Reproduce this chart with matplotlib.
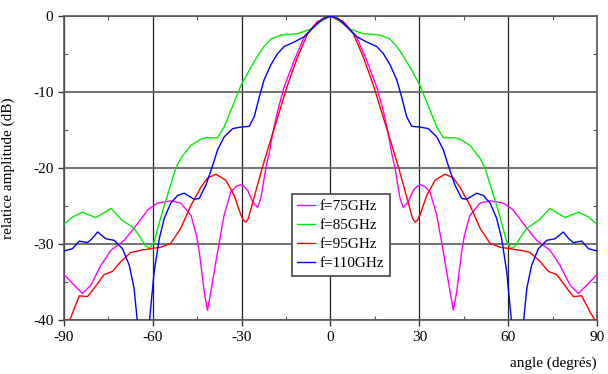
import matplotlib
matplotlib.use("Agg")
import matplotlib.pyplot as plt
from matplotlib.ticker import MultipleLocator

plt.rcParams.update({'font.size': 11, 'font.family': 'Liberation Serif',
                     'axes.unicode_minus': False})

# angle (deg) / relative amplitude (dB)
ang_75 = [-90, -86.5, -83.7, -80.9, -77.5, -74.1, -69.6, -65.1, -61.7, -58.4, -53.9, -50.5, -47.1,
          -45.2, -44.3, -42.6, -41.5, -40.4, -38.1, -35.9, -33.6, -31.8, -30.4, -29.2, -28.0, -26.3,
          -24.6, -23.5, -22.4, -21.8, -20.7, -19.5, -17.8, -15.6, -12.2, -8.8, -4.3, 0,
          4.3, 8.8, 12.2, 15.6, 17.8, 19.5, 20.7, 21.8, 22.4, 23.5, 24.6, 26.3, 28.0, 29.2, 30.4,
          31.8, 33.6, 35.9, 38.1, 40.4, 41.5, 42.6, 44.3, 45.2, 47.1, 50.5, 53.9, 58.4, 61.7, 65.1,
          69.6, 74.1, 77.5, 80.9, 83.7, 86.5, 90]
db_75 = [-34.0, -35.4, -36.5, -35.4, -32.8, -30.8, -29.5, -27.3, -25.5, -24.6, -24.3, -24.6, -26.2,
         -28.9, -31.0, -36.3, -38.7, -36.3, -31.0, -26.2, -23.1, -22.4, -22.2, -22.4, -22.9, -24.4,
         -25.2, -24.0, -21.4, -20.0, -18.1, -15.4, -12.4, -9.3, -5.8, -2.7, -0.7, 0,
         -0.7, -2.7, -5.8, -9.3, -12.4, -15.4, -18.1, -20.0, -21.4, -24.0, -25.2, -24.4, -22.9, -22.4, -22.2,
         -22.4, -23.1, -26.2, -31.0, -36.3, -38.7, -36.3, -31.0, -28.9, -26.2, -24.6, -24.3, -24.6, -25.5, -27.3,
         -29.5, -30.8, -32.8, -35.4, -36.5, -35.4, -34.0]

ang_85 = [-90, -87, -83.7, -79.2, -76.5, -74.1, -70.5, -66.3, -64, -62.5, -61, -59.5, -58, -56.1,
          -54, -52.2, -50.5, -47.1, -43.7, -42, -38.1, -35.9, -33.6, -30.2, -26.8, -24.5, -22.4,
          -20, -16.7, -11, -6.6, -3.2, 0,
          3.2, 6.6, 11, 16.7, 20, 22.4, 24.5, 26.8, 30.2, 33.6, 35.9, 38.1, 42, 43.7, 47.1,
          50.5, 52.2, 54, 56.1, 58, 59.5, 61, 62.5, 64, 66.3, 70.5, 74.1, 76.5, 79.2, 83.7, 87, 90]
db_85 = [-27.4, -26.4, -25.8, -26.5, -25.9, -25.3, -26.8, -27.9, -29.2, -30.2, -30.6, -29.7, -27.5, -24.9,
         -22.3, -20.0, -18.7, -17.0, -16.2, -16.0, -16.0, -14.6, -12.4, -9.1, -6.7, -5.2, -4.0,
         -3.0, -2.5, -2.3, -1.7, -0.7, 0,
         -0.7, -1.7, -2.3, -2.5, -3.0, -4.0, -5.2, -6.7, -9.1, -12.4, -14.6, -16.0, -16.0, -16.2, -17.0,
         -18.7, -20.0, -22.3, -24.9, -27.5, -29.7, -30.6, -30.2, -29.2, -27.9, -26.8, -25.3, -25.9, -26.5,
         -25.8, -26.4, -27.4]

ang_95 = [-90, -88, -84.8, -82.0, -79.8, -76.4, -73.6, -70.8, -67.4, -64.0, -60.6, -57.2, -53.9,
          -50.5, -47.1, -43.7, -41.5, -38.7, -35.3, -32.5, -30.2, -29.3, -28.5, -27.7, -26.8, -24.6,
          -22.9, -21.2, -19.0, -16.7, -14.5, -11.1, -7.7, -4.3, 0,
          4.3, 7.7, 11.1, 14.5, 16.7, 19.0, 21.2, 22.9, 24.6, 26.8, 27.7, 28.5, 29.3, 30.2, 32.5,
          35.3, 38.7, 41.5, 43.7, 47.1, 50.5, 53.9, 57.2, 60.6, 64.0, 67.4, 70.8, 73.6, 76.4,
          79.8, 82.0, 84.8, 87.6, 89.3, 90]
db_95 = [-40.0, -40.0, -36.8, -36.9, -35.8, -34.0, -33.6, -32.3, -31.1, -30.8, -30.6, -30.4, -29.9,
         -27.9, -24.9, -22.5, -21.3, -20.8, -21.6, -23.6, -26.2, -26.9, -27.1, -26.6, -25.3, -22.2,
         -19.8, -17.6, -14.8, -11.9, -9.1, -5.4, -2.3, -0.75, 0,
         -0.75, -2.3, -5.4, -9.1, -11.9, -14.8, -17.6, -19.8, -22.2, -25.3, -26.6, -27.1, -26.9, -26.2, -23.6,
         -21.6, -20.8, -21.3, -22.5, -24.9, -27.9, -29.9, -30.4, -30.6, -30.8, -31.1, -32.3, -33.6, -34.0,
         -35.8, -36.9, -36.8, -38.9, -40.0, -40.0]

ang_110 = [-90, -87.1, -84.8, -82.0, -80.5, -78.6, -75.8, -73.0, -70.2, -67.9, -66.3, -65.1, -63.2,
           -61.2, -59.5, -57.8, -56.1, -53.9, -51.6, -49.4, -46.0, -44.3, -42.0, -39.8, -38.1,
           -35.9, -33.0, -30.2, -27.4, -25.7, -24.0, -22.4, -20.1, -17.8, -15.6, -12.2, -8.8,
           -5.5, -2.5, 0,
           2.5, 5.5, 8.8, 12.2, 15.6, 17.8, 20.1, 22.4, 24.0, 25.7, 27.4, 30.2, 33.0, 35.9, 38.1,
           39.8, 42.0, 44.3, 46.0, 49.4, 51.6, 53.9, 56.1, 57.8, 59.5, 61.2, 63.2, 65.1, 66.3,
           67.9, 70.2, 73.0, 75.8, 78.6, 80.5, 82.0, 84.8, 87.1, 90]
db_110 = [-30.9, -30.6, -29.6, -29.8, -29.3, -28.4, -29.3, -29.5, -30.6, -32.8, -35.8, -40.5, -47,
          -40.5, -33.6, -29.3, -26.6, -24.6, -23.6, -23.3, -24.1, -24.0, -22.2, -19.7, -17.6,
          -15.9, -14.8, -14.6, -14.5, -13.2, -10.6, -8.4, -6.4, -4.9, -4.0, -3.4, -2.7,
          -1.4, -0.3, 0,
          -0.3, -1.4, -2.7, -3.4, -4.0, -4.9, -6.4, -8.4, -10.6, -13.2, -14.5, -14.6, -14.8, -15.9, -17.6,
          -19.7, -22.2, -24.0, -24.1, -23.3, -23.6, -24.6, -26.6, -29.3, -33.6, -40.5, -47, -40.5, -35.8,
          -32.8, -30.6, -29.5, -29.3, -28.4, -29.3, -29.8, -29.6, -30.6, -30.9]

labels = ['f=75GHz', 'f=85GHz', 'f=95GHz', 'f=110GHz']
colors = ['#ff00ff', '#00ee00', '#ff0000', '#0000ff']

fig = plt.figure(figsize=(6.08, 3.74), dpi=100)
ax = fig.add_axes([0.105, 0.144, 0.877, 0.813])

series = [(ang_75, db_75), (ang_85, db_85), (ang_95, db_95), (ang_110, db_110)]
for (a, d), lab, c in zip(series, labels, colors):
    ax.plot(a, d, color=c, lw=1.0, label=lab, zorder=3)

ax.set_xlim(-90, 90)
ax.set_ylim(-40, 0)
ax.xaxis.set_major_locator(MultipleLocator(30))
ax.xaxis.set_minor_locator(MultipleLocator(15))
ax.yaxis.set_major_locator(MultipleLocator(10))
ax.yaxis.set_minor_locator(MultipleLocator(5))
ax.tick_params(which='major', direction='out', length=4, width=1, color='#333333', labelsize=11)
ax.tick_params(which='minor', direction='in', length=3, width=0.8, color='#555555',
               top=True, right=True)

ax.grid(True, which='major', axis='x', color='#222222', lw=0.9)
ax.grid(True, which='major', axis='y', color='#666666', lw=1.3)
for side in ['top', 'bottom', 'left', 'right']:
    ax.spines[side].set_color('#555555')
    ax.spines[side].set_linewidth(1.2)

ax.set_ylabel('relatice amplitude (dB)', fontsize=11)
ax.yaxis.set_label_coords(-0.092, 0.5)
ax.set_xlabel('angle (degrés)', fontsize=11, ha='right')
ax.xaxis.set_label_coords(1.0, -0.118)

leg = ax.legend(loc='upper left', bbox_to_anchor=(0.427, 0.414), borderaxespad=0,
                fancybox=False, framealpha=1, edgecolor='#444444', fontsize=11,
                handlelength=1.2, handletextpad=0.3, labelspacing=0.35, borderpad=0.35)
leg.get_frame().set_linewidth(1.2)

fig.savefig('out.png', dpi=100)
